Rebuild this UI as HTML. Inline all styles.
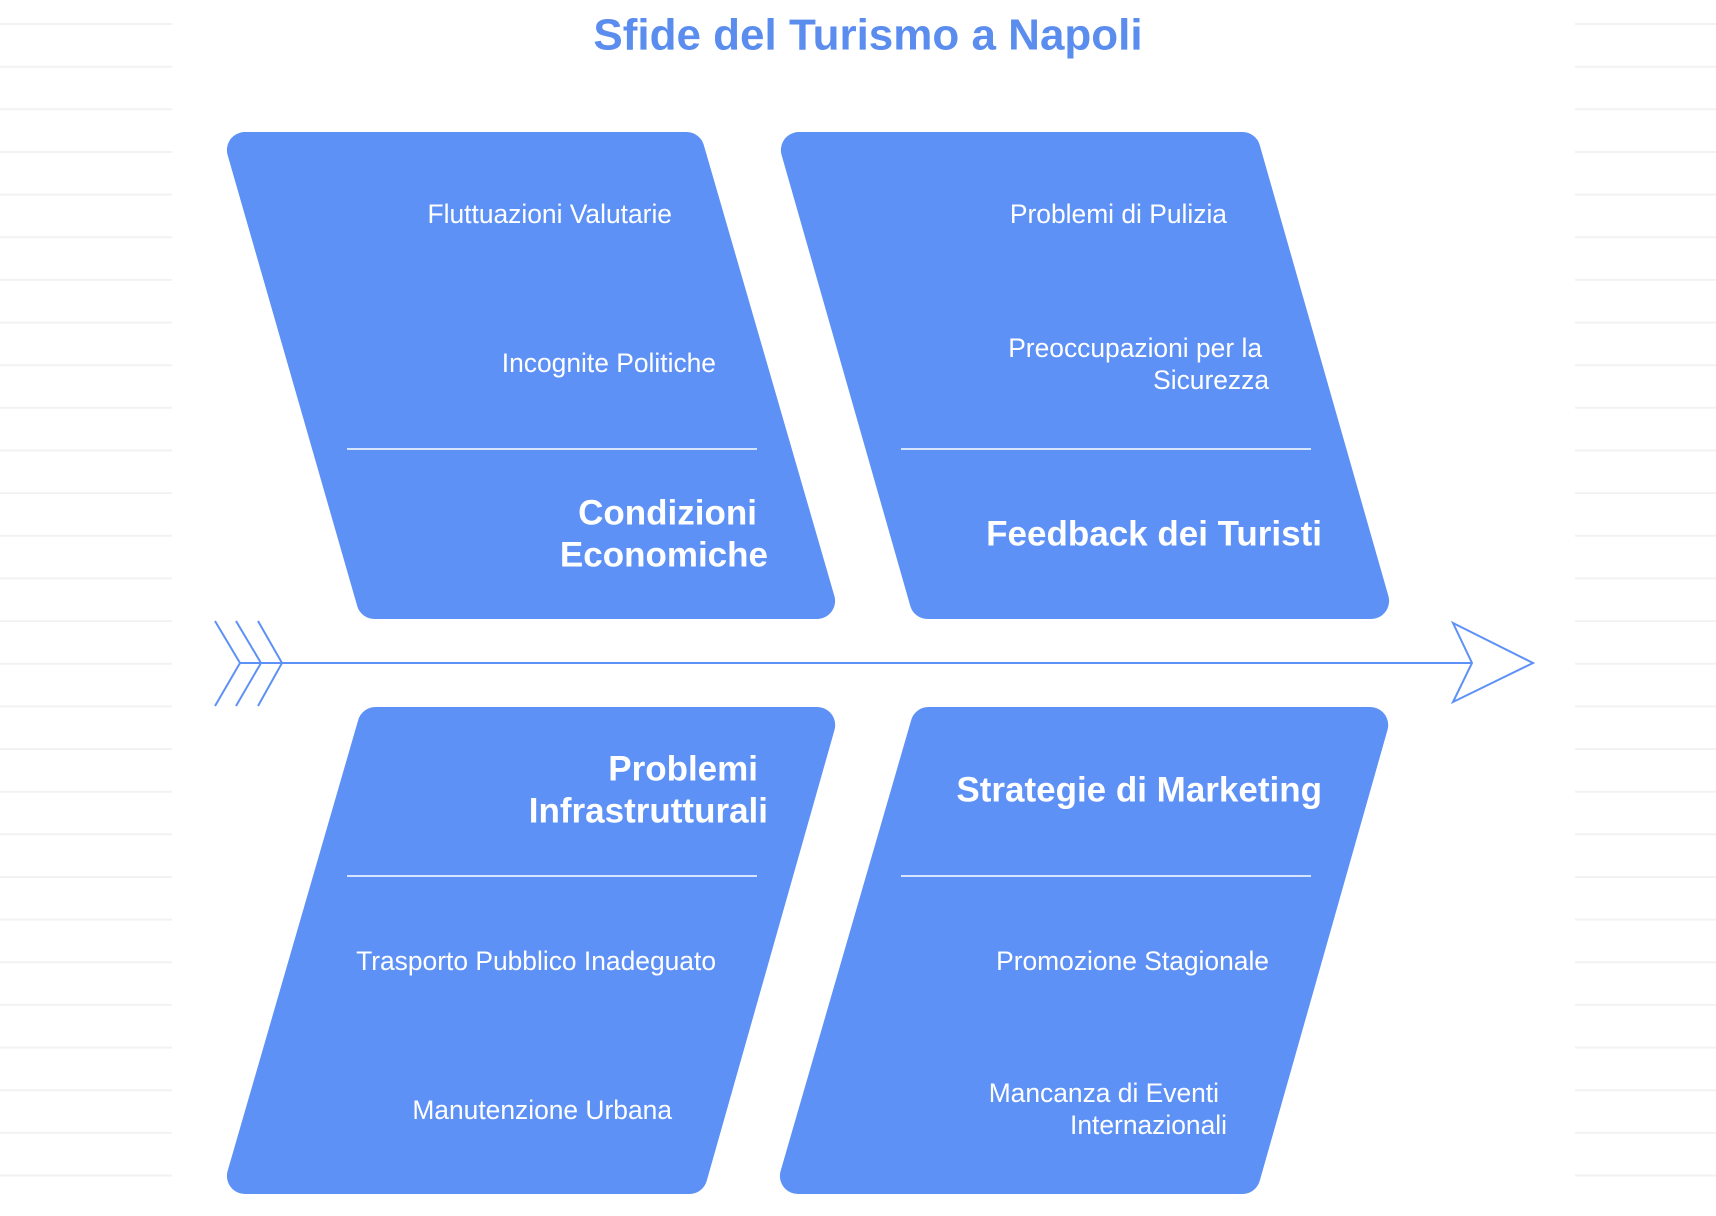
<!DOCTYPE html>
<html><head><meta charset="utf-8"><style>
html,body{margin:0;padding:0;background:#fff;}
svg{display:block;font-family:"Liberation Sans",Arial,sans-serif;}
</style></head><body>
<svg id="s" width="1716" height="1216" viewBox="0 0 1716 1216" xmlns="http://www.w3.org/2000/svg">
<g id="bg" stroke="#f2f2f2" stroke-width="2"></g>
<text x="868" y="35" text-anchor="middle" dominant-baseline="central" font-size="44" font-weight="bold" fill="#5b8def">Sfide del Turismo a Napoli</text>
<g id="panels" fill="#5e91f6" stroke="#5e91f6" stroke-width="36" stroke-linejoin="round"></g>
<g stroke="#fff" stroke-width="1.6">
<line x1="347" y1="449" x2="757" y2="449"/>
<line x1="901" y1="449" x2="1311" y2="449"/>
<line x1="347" y1="876" x2="757" y2="876"/>
<line x1="901" y1="876" x2="1311" y2="876"/>
</g>
<g fill="none" stroke="#5e91f6" stroke-width="2">
<line x1="240" y1="663" x2="1472" y2="663"/>
<polyline points="215,621 240,663 215,706"/>
<polyline points="236,621 261,663 236,706"/>
<polyline points="258,621 282,663 258,706"/>
<polygon points="1453,623 1533,663 1453,702 1472,663"/>
</g>
<g fill="#fff" text-anchor="end" dominant-baseline="central" font-size="26.4">
<text x="672" y="214">Fluttuazioni Valutarie</text>
<text x="716" y="363">Incognite Politiche</text>
<text x="1227" y="214">Problemi di Pulizia</text>
<text x="1262" y="348">Preoccupazioni per la</text>
<text x="1269" y="380">Sicurezza</text>
<text x="716" y="961">Trasporto Pubblico Inadeguato</text>
<text x="672" y="1110">Manutenzione Urbana</text>
<text x="1269" y="961">Promozione Stagionale</text>
<text x="1219" y="1093">Mancanza di Eventi</text>
<text x="1227" y="1125">Internazionali</text>
<g font-weight="bold" font-size="35">
<text x="757" y="513">Condizioni</text>
<text x="768" y="555">Economiche</text>
<text x="1322" y="534">Feedback dei Turisti</text>
<text x="758" y="769">Problemi</text>
<text x="768" y="811">Infrastrutturali</text>
<text x="1322" y="790">Strategie di Marketing</text>
</g>
</g>
</svg>
<script>
var NS="http://www.w3.org/2000/svg";
var bg=document.getElementById("bg");
for(var y=24;y<1216;y+=42.65){
 [[0,172],[1575,1716]].forEach(function(r){
  var l=document.createElementNS(NS,"line");
  l.setAttribute("x1",r[0]);l.setAttribute("x2",r[1]);
  l.setAttribute("y1",y.toFixed(1));l.setAttribute("y2",y.toFixed(1));
  bg.appendChild(l);});
}
var P=document.getElementById("panels");
function panel(ty,tl,tr,by,bl,br){
 var d=18, h=by-ty, k=d*1.04;
 function lx(x0,x1,y){return x0+(x1-x0)*(y-ty)/h;}
 var y1=ty+d,y2=by-d;
 var pts=[[lx(tl,bl,y1)+k,y1],[lx(tr,br,y1)-k,y1],[lx(tr,br,y2)-k,y2],[lx(tl,bl,y2)+k,y2]];
 var p=document.createElementNS(NS,"polygon");
 p.setAttribute("points",pts.map(function(q){return q[0].toFixed(1)+","+q[1].toFixed(1)}).join(" "));
 P.appendChild(p);
}
panel(132,221,700,619,361,841);
panel(132,775,1256,619,914,1395);
panel(707,362,841,1194,221,703);
panel(707,915,1394,1194,774,1256);
</script>
</body></html>
